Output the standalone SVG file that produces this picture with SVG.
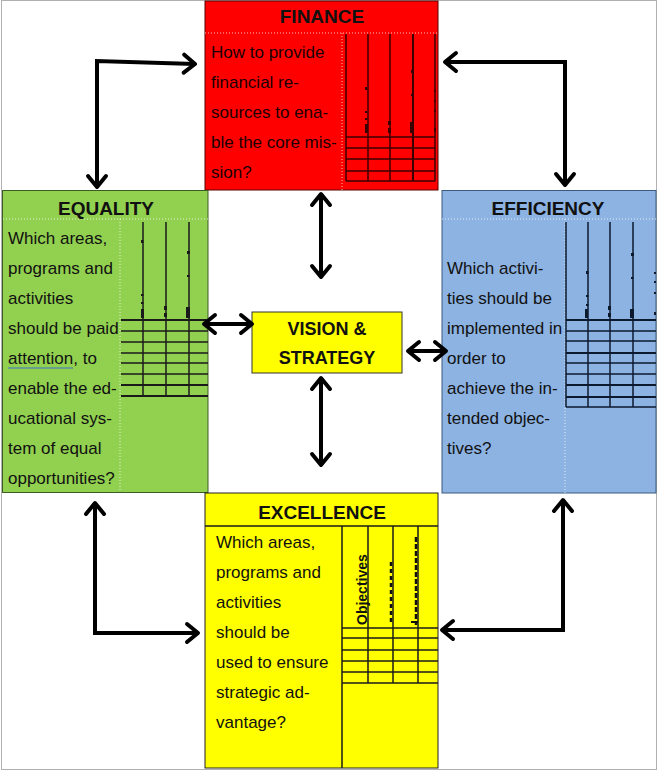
<svg xmlns="http://www.w3.org/2000/svg" width="658" height="771" viewBox="0 0 658 771">
<defs>
<style>
.hdr{font-family:"Liberation Sans",Arial,sans-serif;font-weight:bold;font-size:19px;fill:#111;text-anchor:middle}
.txt{font-family:"Liberation Sans",Arial,sans-serif;font-size:17px;fill:#111}
.vs{font-family:"Liberation Sans",Arial,sans-serif;font-weight:bold;font-size:18px;fill:#111;text-anchor:middle}
.rot{font-family:"Liberation Sans",Arial,sans-serif;font-weight:bold;font-size:14px;fill:#111}
.tl{stroke:#1a1a1a;stroke-width:1.5;fill:none}
.dash{stroke:#fff;stroke-opacity:0.75;stroke-width:1;stroke-dasharray:1 2;fill:none}
.frag{fill:#1a1a1a}
.conn{stroke:#000;stroke-width:4;fill:none;stroke-linejoin:miter;marker-start:url(#ah);marker-end:url(#ah)}
</style>
<marker id="ah" viewBox="-16 -12 20 24" refX="0" refY="0" markerWidth="20" markerHeight="24" markerUnits="userSpaceOnUse" orient="auto-start-reverse">
<path d="M-11,-9 L0,0 L-11,9" fill="none" stroke="#000" stroke-width="4" stroke-linecap="round" stroke-linejoin="round"/>
</marker>
</defs>
<rect x="0" y="0" width="658" height="771" fill="#fff"/>
<rect x="1.5" y="0.5" width="655" height="769" fill="none" stroke="#b0b0b0" stroke-width="1"/>

<g id="finance">
<rect x="205" y="1" width="233" height="189" fill="#ff0000" stroke="#5a0000" stroke-width="1"/>
<line class="dash" x1="205" y1="33" x2="438" y2="33"/>
<line class="dash" x1="342" y1="33" x2="342" y2="190"/>
<text class="hdr" x="322" y="23">FINANCE</text>
<g class="txt" style="fill:#1a0000">
<text x="211" y="58">How to provide</text>
<text x="211" y="88">financial re-</text>
<text x="211" y="118">sources to ena-</text>
<text x="211" y="148">ble the core mis-</text>
<text x="211" y="178">sion?</text>
</g>
<g class="tl" style="stroke:#3a0000">
<line x1="346" y1="34" x2="346" y2="181"/>
<line x1="368" y1="34" x2="368" y2="181"/>
<line x1="390" y1="34" x2="390" y2="181"/>
<line x1="413" y1="34" x2="413" y2="181" stroke-width="2"/>
<line x1="435" y1="34" x2="435" y2="181"/>
<line x1="346" y1="137" x2="435" y2="137"/>
<line x1="346" y1="148" x2="435" y2="148"/>
<line x1="346" y1="159" x2="435" y2="159"/>
<line x1="346" y1="171" x2="435" y2="171"/>
<line x1="346" y1="181" x2="435" y2="181"/>
</g>
<g class="frag" style="fill:#3a0000">
<rect x="365" y="87" width="2.5" height="3"/><rect x="365" y="111" width="2.5" height="2"/><rect x="365" y="118" width="2.5" height="2"/><rect x="365" y="124" width="3" height="9"/>
<rect x="388" y="121" width="3" height="4"/><rect x="388" y="128" width="3" height="5"/>
<rect x="411" y="70" width="2.5" height="3"/><rect x="411" y="94" width="2.5" height="2"/><rect x="410" y="122" width="4" height="11"/>
<rect x="434" y="90" width="2" height="2"/><rect x="434" y="100" width="2" height="2"/><rect x="434" y="110" width="2" height="2"/><rect x="434" y="128" width="2" height="4"/>
</g>
</g>

<g id="equality">
<rect x="2.5" y="190.5" width="205.5" height="302" fill="#92d050" stroke="#3e5a25" stroke-width="1"/>
<line class="dash" x1="3" y1="219" x2="208" y2="219"/>
<line class="dash" x1="120" y1="219" x2="120" y2="492"/>
<text class="hdr" x="106" y="215">EQUALITY</text>
<g class="txt">
<text x="8" y="244">Which areas,</text>
<text x="8" y="274">programs and</text>
<text x="8" y="304">activities</text>
<text x="8" y="334">should be paid</text>
<text x="8" y="364">attention, to</text>
<text x="8" y="394">enable the ed-</text>
<text x="8" y="424">ucational sys-</text>
<text x="8" y="454">tem of equal</text>
<text x="8" y="484">opportunities?</text>
</g>
<line x1="8" y1="368" x2="73" y2="368" stroke="#3a6fc4" stroke-width="1"/>
<g class="tl">
<line x1="143" y1="222" x2="143" y2="396"/>
<line x1="166" y1="222" x2="166" y2="396"/>
<line x1="189" y1="222" x2="189" y2="396"/>
<line x1="121" y1="320" x2="208" y2="320" stroke-width="2"/>
<line x1="121" y1="331" x2="208" y2="331"/>
<line x1="121" y1="342" x2="208" y2="342"/>
<line x1="121" y1="353" x2="208" y2="353"/>
<line x1="121" y1="363" x2="208" y2="363"/>
<line x1="121" y1="374" x2="208" y2="374"/>
<line x1="121" y1="385" x2="208" y2="385" stroke-width="2"/>
<line x1="121" y1="396" x2="208" y2="396" stroke-width="2"/>
</g>
<g class="frag">
<rect x="141" y="240" width="2.5" height="3"/><rect x="141" y="294" width="2.5" height="2"/><rect x="141" y="302" width="2.5" height="2"/><rect x="141" y="309" width="3" height="9"/>
<rect x="164" y="306" width="3" height="4"/><rect x="164" y="313" width="3" height="4"/>
<rect x="187" y="251" width="3" height="3"/><rect x="187" y="275" width="2.5" height="2"/><rect x="186" y="307" width="4" height="11"/>
</g>
</g>

<g id="efficiency">
<rect x="442" y="190.5" width="214" height="302.5" fill="#8db3e2" stroke="#3b5a80" stroke-width="1"/>
<line class="dash" x1="442" y1="219" x2="656" y2="219"/>
<line class="dash" x1="565" y1="219" x2="565" y2="493"/>
<text class="hdr" x="548" y="215">EFFICIENCY</text>
<g class="txt">
<text x="447" y="274">Which activi-</text>
<text x="447" y="304">ties should be</text>
<text x="447" y="334">implemented in</text>
<text x="447" y="364">order to</text>
<text x="447" y="394">achieve the in-</text>
<text x="447" y="424">tended objec-</text>
<text x="447" y="454">tives?</text>
</g>
<g class="tl" style="stroke:#0d1a2e">
<line x1="566" y1="222" x2="566" y2="407"/>
<line x1="588" y1="222" x2="588" y2="407"/>
<line x1="610" y1="222" x2="610" y2="407"/>
<line x1="633" y1="222" x2="633" y2="407"/>
<line x1="566" y1="320" x2="656" y2="320" stroke-width="2"/>
<line x1="566" y1="331" x2="656" y2="331"/>
<line x1="566" y1="341" x2="656" y2="341"/>
<line x1="566" y1="353" x2="656" y2="353" stroke-width="2"/>
<line x1="566" y1="363" x2="656" y2="363"/>
<line x1="566" y1="374" x2="656" y2="374"/>
<line x1="566" y1="385" x2="656" y2="385" stroke-width="2"/>
<line x1="566" y1="397" x2="656" y2="397" stroke-width="2"/>
<line x1="566" y1="407" x2="656" y2="407"/>
</g>
<g class="frag" style="fill:#0d1a2e">
<rect x="586" y="271" width="2.5" height="3"/><rect x="586" y="295" width="2.5" height="2"/><rect x="586" y="304" width="2.5" height="2"/><rect x="585" y="309" width="3" height="9"/>
<rect x="608" y="306" width="3" height="4"/><rect x="608" y="313" width="3" height="4"/>
<rect x="631" y="253" width="3" height="3"/><rect x="631" y="277" width="2.5" height="2"/><rect x="630" y="309" width="4" height="9"/>
<rect x="654" y="272" width="2" height="2"/><rect x="654" y="281" width="2" height="2"/><rect x="654" y="292" width="2" height="2"/><rect x="654" y="312" width="2" height="3"/>
</g>
</g>

<g id="excellence">
<rect x="205" y="493" width="233" height="275" fill="#ffff00" stroke="#222" stroke-width="1"/>
<line class="tl" x1="205" y1="526" x2="438" y2="526"/>
<text class="hdr" x="322" y="519">EXCELLENCE</text>
<g class="txt">
<text x="216" y="548">Which areas,</text>
<text x="216" y="578">programs and</text>
<text x="216" y="608">activities</text>
<text x="216" y="638">should be</text>
<text x="216" y="668">used to ensure</text>
<text x="216" y="698">strategic ad-</text>
<text x="216" y="728">vantage?</text>
</g>
<g class="tl">
<line x1="342" y1="526" x2="342" y2="768"/>
<line x1="368" y1="526" x2="368" y2="683"/>
<line x1="393" y1="526" x2="393" y2="683"/>
<line x1="418" y1="526" x2="418" y2="683"/>
<line x1="342" y1="628" x2="438" y2="628"/>
<line x1="342" y1="638" x2="438" y2="638"/>
<line x1="342" y1="650" x2="438" y2="650"/>
<line x1="342" y1="661" x2="438" y2="661"/>
<line x1="342" y1="672" x2="438" y2="672"/>
<line x1="342" y1="683" x2="438" y2="683"/>
</g>
<text class="rot" transform="translate(367,625) rotate(-90)">Objectives</text>
<line x1="391" y1="562" x2="391" y2="625" stroke="#111" stroke-width="2.5" stroke-dasharray="4 3"/>
<line x1="416" y1="537" x2="416" y2="625" stroke="#111" stroke-width="2.5" stroke-dasharray="5 2"/>
<line x1="411" y1="622" x2="418" y2="622" stroke="#111" stroke-width="2"/>
</g>

<g id="vision">
<rect x="252" y="312" width="150" height="61" fill="#ffff00" stroke="#333" stroke-width="1"/>
<text class="vs" x="327" y="334.5">VISION &amp;</text>
<text class="vs" x="327" y="363.5">STRATEGY</text>
</g>

<g id="connectors">
<line class="conn" x1="321" y1="194" x2="321" y2="277"/>
<line class="conn" x1="321" y1="378" x2="321" y2="465"/>
<line class="conn" x1="204" y1="324" x2="252" y2="324"/>
<line class="conn" x1="408" y1="351" x2="446" y2="351"/>
<polyline class="conn" points="195,64 97,61 97,187"/>
<polyline class="conn" points="445,62 565,62 565,185"/>
<polyline class="conn" points="95,503 95,633 198,633"/>
<polyline class="conn" points="563,500 563,630 442,630"/>
</g>
</svg>
